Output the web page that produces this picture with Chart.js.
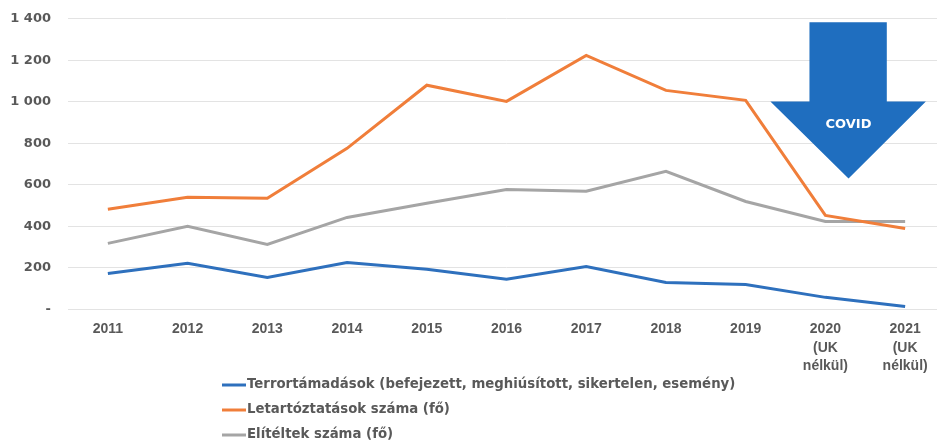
<!DOCTYPE html>
<html>
<head>
<meta charset="utf-8">
<script src="https://cdn.jsdelivr.net/npm/chart.js@4/dist/chart.umd.min.js"></script>
<style>
  html, body { margin: 0; padding: 0; background: #fff; overflow: hidden; }
  #wrap { width: 945px; height: 446px; margin-top: -6px; }
</style>
</head>
<body>
<div id="wrap"><canvas id="chart"></canvas></div>
<script>
"use strict";

const years = [
  '2011', '2012', '2013', '2014', '2015', '2016', '2017', '2018', '2019',
  ['2020', '(UK', 'nélkül)'], ['2021', '(UK', 'nélkül)']
];
const attacks = [173, 222, 154, 226, 193, 145, 207, 130, 120, 58, 14];
const arrests = [482, 540, 535, 776, 1080, 1002, 1224, 1055, 1007, 453, 390];
const convicted = [318, 400, 313, 443, 511, 578, 569, 665, 520, 424, 424];
const seriesNames = [
  'Terrortámadások (befejezett, meghiúsított, sikertelen, esemény)',
  'Letartóztatások száma (fő)',
  'Elítéltek száma (fő)'
];
const yTicks = { min: 0, max: 1400, step: 200 };

const textColor = '#595959';
const boldFont = '"DejaVu Sans", Verdana, sans-serif';
const narrowFont = '"Liberation Sans", Arial, sans-serif';

// COVID arrow, in category index / value units
const covidArrow = {
  shaftLeft: 8.80, shaftRight: 9.77, headLeft: 8.31, headRight: 10.26, tipX: 9.29,
  top: 1383, shaftBottom: 1002, tip: 631, textY: 891
};

const arrowPlugin = {
  id: 'covidArrow',
  afterDatasetsDraw(chart) {
    const { ctx, scales: { x, y } } = chart;
    const a = covidArrow;
    ctx.save();
    ctx.fillStyle = '#1f6ebf';
    ctx.beginPath();
    ctx.moveTo(x.getPixelForValue(a.shaftLeft), y.getPixelForValue(a.top));
    ctx.lineTo(x.getPixelForValue(a.shaftRight), y.getPixelForValue(a.top));
    ctx.lineTo(x.getPixelForValue(a.shaftRight), y.getPixelForValue(a.shaftBottom));
    ctx.lineTo(x.getPixelForValue(a.headRight), y.getPixelForValue(a.shaftBottom));
    ctx.lineTo(x.getPixelForValue(a.tipX), y.getPixelForValue(a.tip));
    ctx.lineTo(x.getPixelForValue(a.headLeft), y.getPixelForValue(a.shaftBottom));
    ctx.lineTo(x.getPixelForValue(a.shaftLeft), y.getPixelForValue(a.shaftBottom));
    ctx.closePath();
    ctx.fill();
    ctx.fillStyle = '#ffffff';
    ctx.font = 'bold 13px ' + boldFont;
    ctx.textAlign = 'center';
    ctx.textBaseline = 'middle';
    ctx.fillText('COVID', x.getPixelForValue(a.tipX), y.getPixelForValue(a.textY));
    ctx.restore();
  }
};

// vertical legend, left-aligned under the axis
const legendPlugin = {
  id: 'stackedLegend',
  afterDraw(chart) {
    const { ctx } = chart;
    const left = 222, top = 391, gap = 25;
    ctx.save();
    ctx.font = 'bold 13.3px ' + boldFont;
    ctx.textBaseline = 'middle';
    ctx.textAlign = 'left';
    chart.data.datasets.forEach((ds, i) => {
      const yy = top + i * gap;
      ctx.strokeStyle = ds.borderColor;
      ctx.lineWidth = 3;
      ctx.beginPath();
      ctx.moveTo(left, yy);
      ctx.lineTo(left + 24, yy);
      ctx.stroke();
      ctx.fillStyle = textColor;
      ctx.fillText(ds.label, left + 25, yy);
    });
    ctx.restore();
  }
};

function lineSet(label, data, color) {
  return {
    label: label,
    data: data,
    borderColor: color,
    backgroundColor: color,
    borderWidth: 3,
    pointRadius: 0,
    tension: 0,
    fill: false
  };
}

new Chart(document.getElementById('chart'), {
  type: 'line',
  data: {
    labels: years,
    datasets: [
      lineSet(seriesNames[0], attacks, '#2e70bd'),
      lineSet(seriesNames[1], arrests, '#f07e3a'),
      lineSet(seriesNames[2], convicted, '#a5a5a5')
    ]
  },
  options: {
    responsive: true,
    maintainAspectRatio: false,
    animation: false,
    layout: { padding: { top: 0, bottom: 62, left: 0, right: 0 } },
    plugins: {
      legend: { display: false },
      tooltip: { enabled: false }
    },
    scales: {
      x: {
        offset: true,
        grid: { display: false },
        border: { display: false },
        ticks: {
          color: textColor,
          font: { family: narrowFont, size: 14, weight: 'bold', lineHeight: 1.3 },
          maxRotation: 0,
          autoSkip: false,
          padding: 3
        }
      },
      y: {
        min: yTicks.min,
        max: yTicks.max,
        afterFit(scale) { scale.width = 68; },
        grid: { color: '#e3e3e3', lineWidth: 1, drawTicks: false },
        border: { display: false },
        ticks: {
          stepSize: yTicks.step,
          color: textColor,
          padding: 17,
          font: { family: boldFont, size: 13, weight: 'bold' },
          callback: v => v === 0 ? '-' : String(v).replace(/\B(?=(\d{3})+(?!\d))/g, ' ')
        }
      }
    }
  },
  plugins: [arrowPlugin, legendPlugin]
});
</script>
</body>
</html>
